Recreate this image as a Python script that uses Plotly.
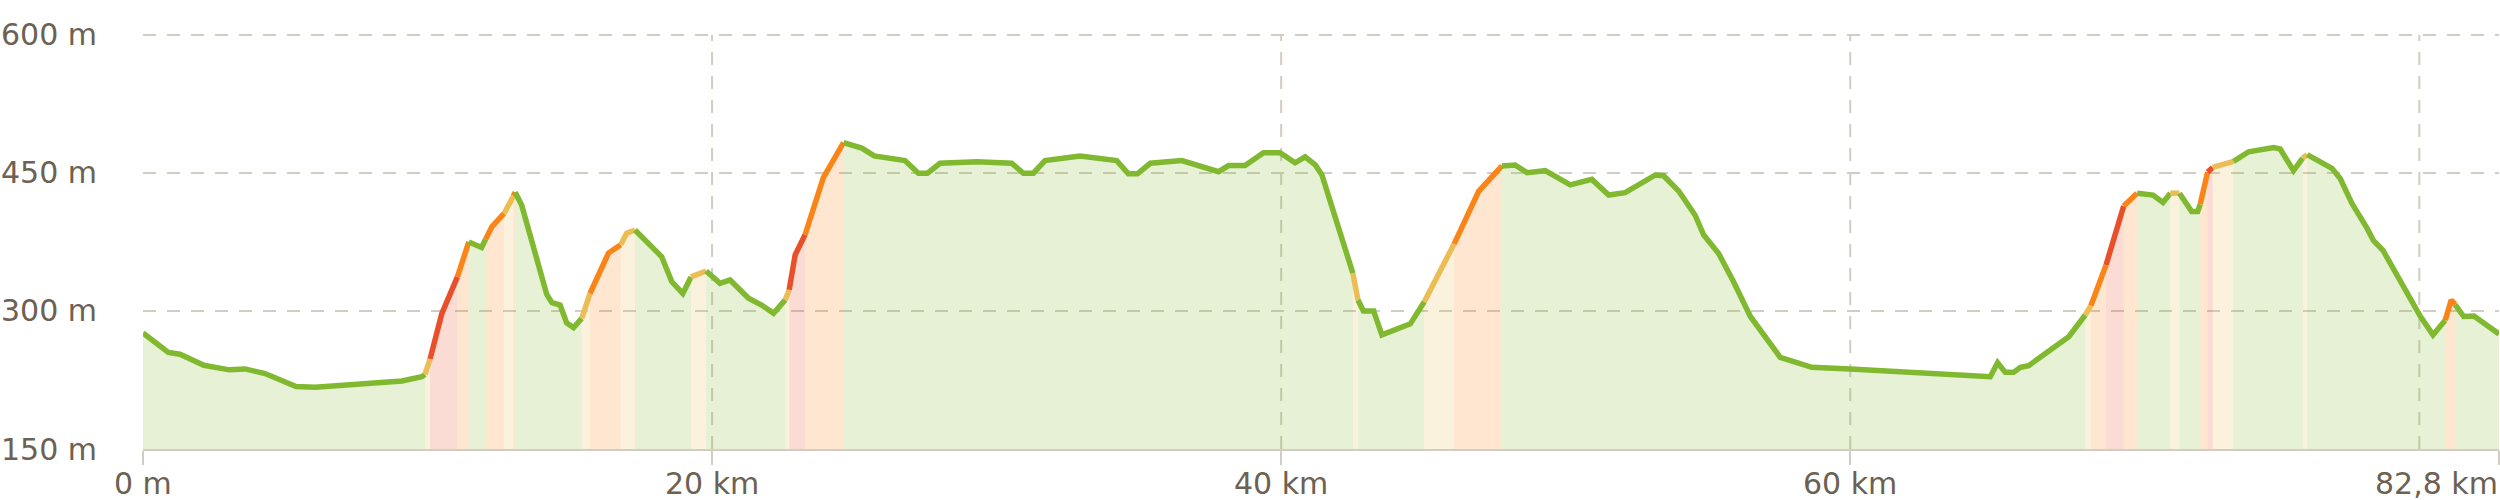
import plotly.graph_objects as go

# ---------------- data ----------------
dist_km = [
    0.00, 0.89, 1.30, 2.14, 3.03, 3.59, 4.29, 5.38, 6.05, 9.10,
    9.80, 9.91, 10.09, 10.50, 11.05, 11.45, 11.90, 12.04, 12.26, 12.69,
    13.02, 13.08, 13.31, 14.19, 14.37, 14.66, 14.89, 15.13, 15.42, 15.71,
    16.06, 16.36, 16.79, 17.00, 17.29, 17.76, 18.23, 18.58, 18.97, 19.26,
    19.79, 20.28, 20.63, 21.28, 21.74, 22.16, 22.57, 22.71, 22.92, 23.27,
    23.91, 24.62, 25.26, 25.70, 26.78, 27.25, 27.57, 28.01, 29.30, 30.53,
    30.94, 31.29, 31.70, 32.93, 34.22, 34.63, 34.95, 35.40, 36.51, 37.80,
    38.15, 38.73, 39.38, 39.96, 40.49, 40.84, 41.20, 41.43, 42.43, 42.52,
    42.70, 42.89, 43.25, 43.54, 44.54, 45.03, 46.08, 46.94, 47.76, 48.22,
    48.64, 49.28, 50.16, 50.92, 51.51, 52.09, 53.15, 53.44, 53.97, 54.55,
    54.85, 55.37, 55.90, 56.25, 56.49, 57.54, 58.65, 60.00, 64.92, 65.18,
    65.45, 65.74, 65.98, 66.27, 66.92, 67.68, 68.26, 68.46, 68.99, 69.61,
    70.08, 70.64, 70.99, 71.25, 71.57, 72.00, 72.21, 72.30, 72.48, 72.56,
    72.74, 73.47, 74.00, 74.88, 75.11, 75.58, 75.90, 76.06, 76.93, 77.22,
    77.63, 78.16, 78.39, 78.72, 79.39, 80.04, 80.48, 80.91, 81.12, 81.26,
    81.56, 81.92, 82.80,
]
elev_m = [
    276, 255, 253, 241, 236, 237, 232, 218, 217, 224,
    228.6, 231, 248, 297, 337, 375, 369, 378, 391.5, 406,
    425, 429, 415, 318, 309, 306.5, 287, 282, 292, 319,
    341.6, 363, 372, 384.5, 388, 373.6, 359, 332, 319, 337,
    343.5, 330, 333.7, 313.8, 306.5, 297.5, 312, 323, 361, 383,
    445, 483, 477, 468.5, 463.4, 449.7, 449.7, 460.5, 462.3, 460.5,
    449.7, 449.7, 463.4, 468.5, 463.4, 449, 449, 460.5, 463.4, 451.4,
    458, 458, 472, 472, 461, 467.5, 458.7, 448, 350, 341,
    312, 300, 300, 274, 286, 310, 373, 430, 457.6, 458.7,
    450.3, 452.5, 437, 443, 426, 428.6, 447.8, 447, 430.4, 404,
    382.6, 362.7, 331.8, 310, 294, 249.6, 238.8, 237, 228.6, 243.8,
    233.3, 233.3, 238.8, 240.6, 255.8, 272, 295.6, 306, 350, 414,
    428, 426, 418, 428, 428, 408, 408, 416, 445, 451,
    456, 462.5, 473, 477.5, 476, 452.5, 466, 470, 455, 444,
    417, 390, 376.4, 366, 330, 294, 274, 290, 312, 307,
    294, 294.6, 275,
]
# steepness class of consecutive segments (class, number of segments)
grade_runs = [
    ("flat", 11), ("yellow", 1), ("red", 2), ("orange", 1), ("flat", 2),
    ("orange", 2), ("yellow", 1), ("orange", 1), ("flat", 7), ("yellow", 1),
    ("orange", 3), ("yellow", 2), ("flat", 5), ("yellow", 1), ("flat", 6),
    ("yellow", 1), ("red", 2), ("orange", 2), ("flat", 28), ("yellow", 1),
    ("flat", 5), ("yellow", 1), ("orange", 2), ("flat", 28), ("yellow", 1),
    ("orange", 1), ("red", 1), ("orange", 1), ("flat", 3), ("yellow", 1),
    ("flat", 3), ("orange", 2), ("red", 1), ("yellow", 1), ("flat", 5),
    ("yellow", 1), ("flat", 10), ("orange", 2), ("flat", 3),
]
x_tick_vals = [0, 20, 40, 60, 82.8]
x_tick_text = ["0 m", "20 km", "40 km", "60 km", "82,8 km"]
x_grid_vals = [20, 40, 60, 80]
y_tick_vals = [150, 300, 450, 600]
y_tick_text = ["150 m", "300 m", "450 m", "600 m"]

# ---------------- style ----------------
grade_rgb = {
    "flat": (128, 185, 47),
    "yellow": (236, 189, 85),
    "orange": (251, 132, 24),
    "red": (233, 79, 41),
}
GRID = "#d1cdc5"
TEXT = "#6c6152"
FONT = "DejaVu Sans"
FONT_SIZE = 30
DASH = "13px,11px"
X_MAX = 82.8
Y_RANGE = [150, 601]
L_MARGIN, R_MARGIN = 143, 1
PLOT_W = 2500 - L_MARGIN - R_MARGIN

seg_grade = []
for g, n in grade_runs:
    seg_grade += [g] * n
assert len(seg_grade) == len(dist_km) - 1 == len(elev_m) - 1

# group consecutive segments with the same class
runs = []
start = 0
for i in range(1, len(seg_grade) + 1):
    if i == len(seg_grade) or seg_grade[i] != seg_grade[start]:
        runs.append((seg_grade[start], start, i))
        start = i

fig = go.Figure()
for g, s, e in runs:
    r, gg, b = grade_rgb[g]
    fig.add_trace(go.Scatter(
        x=dist_km[s:e + 1], y=elev_m[s:e + 1], mode="lines",
        line=dict(width=0, color=f"rgba({r},{gg},{b},0)"),
        fill="tozeroy", fillcolor=f"rgba({r},{gg},{b},0.2)",
        hoverinfo="skip", showlegend=False,
    ))
for g, s, e in runs:
    r, gg, b = grade_rgb[g]
    fig.add_trace(go.Scatter(
        x=dist_km[s:e + 1], y=elev_m[s:e + 1], mode="lines",
        line=dict(width=5.5, color=f"rgb({r},{gg},{b})"),
        hoverinfo="skip", showlegend=False,
    ))

shapes = []
for v in x_grid_vals:
    shapes.append(dict(type="line", xref="x", yref="y", x0=v, x1=v,
                       y0=y_tick_vals[0], y1=y_tick_vals[-1], layer="below",
                       line=dict(color=GRID, width=2, dash=DASH)))
for v in y_tick_vals[1:]:
    shapes.append(dict(type="line", xref="paper", yref="y", x0=0, x1=1,
                       y0=v, y1=v, layer="below",
                       line=dict(color=GRID, width=2, dash=DASH)))

annotations = []
for v, t in zip(y_tick_vals, y_tick_text):
    annotations.append(dict(xref="paper", yref="y", x=-L_MARGIN / PLOT_W, y=v,
                            text=t, showarrow=False, xanchor="left",
                            yanchor="middle", borderpad=0,
                            font=dict(family=FONT, size=FONT_SIZE, color=TEXT)))
for v, t in zip(x_tick_vals, x_tick_text):
    annotations.append(dict(xref="x", yref="paper", x=v, y=0, text=t,
                            showarrow=False, borderpad=0,
                            xanchor="right" if v == x_tick_vals[-1] else "center",
                            yanchor="middle", yshift=-34,
                            font=dict(family=FONT, size=FONT_SIZE, color=TEXT)))

fig.update_layout(
    width=2500, height=500,
    margin=dict(l=L_MARGIN, r=R_MARGIN, t=34, b=51),
    paper_bgcolor="white", plot_bgcolor="white",
    showlegend=False, shapes=shapes, annotations=annotations,
    xaxis=dict(range=[0, X_MAX], tickmode="array", tickvals=x_tick_vals,
               showticklabels=False, ticks="outside", ticklen=14, tickwidth=2,
               tickcolor=GRID, showline=True, linecolor=GRID, linewidth=2,
               showgrid=False, zeroline=False, fixedrange=True),
    yaxis=dict(range=Y_RANGE, tickmode="array", tickvals=y_tick_vals,
               showticklabels=False, ticks="", showgrid=False,
               zeroline=False, showline=False, fixedrange=True),
)

fig.write_html("out.html",
               config={"displayModeBar": False},
               post_script="document.body.style.margin='0';")
